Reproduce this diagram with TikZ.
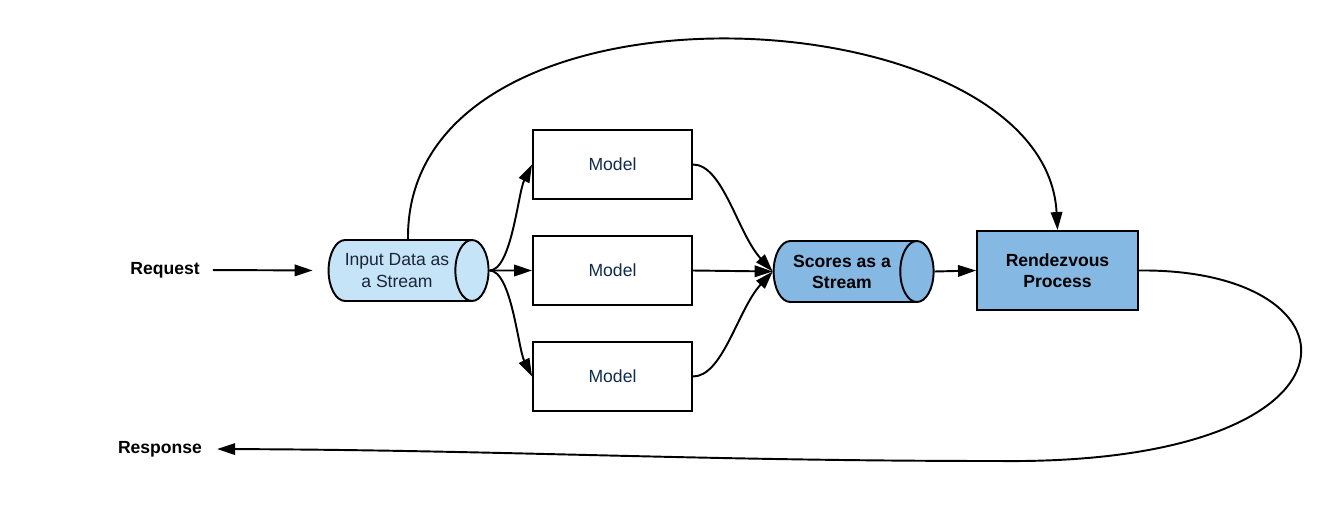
\documentclass[tikz,border=0pt]{standalone}
\usepackage{fontspec}
\setmainfont{Liberation Sans}
\usetikzlibrary{arrows.meta,shapes.geometric}
\definecolor{inputblue}{HTML}{C5E4F7}
\definecolor{scoreblue}{HTML}{85B8E3}
\definecolor{modeltext}{HTML}{0F2B4F}
\definecolor{streamtext}{HTML}{1B2535}
\tikzset{
	link/.style = {line width=1.1pt, -{Triangle[length=3.6mm,width=2.3mm]}},
	lbl/.style = {font=\fontsize{10}{12}\selectfont\bfseries},
	model/.style = {draw, line width=1.1pt, rectangle, minimum width=3.18cm, minimum height=1.38cm, text=modeltext, font=\fontsize{10}{12}\selectfont},
	stream/.style = {draw, line width=1.1pt, cylinder, aspect=0.9, minimum height=3.2cm, minimum width=1.22cm, inner sep=1pt, align=center, font=\fontsize{10}{12}\selectfont},
	rdvbox/.style = {draw, line width=1.1pt, rectangle, fill=scoreblue, minimum width=3.22cm, minimum height=1.58cm, align=center, font=\fontsize{10}{12}\selectfont\bfseries}
}
\begin{document}
	\begin{tikzpicture}[x=0.02cm, y=-0.02cm]
		\useasboundingbox (0,0) rectangle (1337,521);
		\node[lbl] (req) at (165,270) {Request};
		\node[lbl] (resp) at (160,449) {Response};
		\node[stream, fill=inputblue, text=streamtext] (in) at (397,270.5) {Input Data as\\a Stream};
		\node[model] (m1) at (612.5,164.5) {Model};
		\node[model] (m2) at (612.5,270.5) {Model};
		\node[model] (m3) at (612.5,376.5) {Model};
		\node[stream, fill=scoreblue, font=\fontsize{10}{12}\selectfont\bfseries] (sc) at (842,271.5) {Scores as a\\Stream};
		\node[rdvbox] (rv) at (1057.5,270.5) {Rendezvous\\Process};
		% request in, fan out to the models
		\draw[link, shorten <=0.14cm, shorten >=0.3cm] (req.east) -- (in.west);
		\draw[link] (in.east) .. controls +(22,0) and +(-14,28) .. (m1.west);
		\draw[link] (in.east) -- (m2.west);
		\draw[link] (in.east) .. controls +(22,0) and +(-14,-28) .. (m3.west);
		% scores
		\draw[link] (m1.east) .. controls +(30,0) and +(-35,-38) .. (sc.west);
		\draw[link] (m2.east) -- (sc.west);
		\draw[link] (m3.east) .. controls +(30,0) and +(-35,38) .. (sc.west);
		\draw[link] (sc.east) -- (rv.west);
		% loops
		\draw[link] ([xshift=0.22cm]in.north) .. controls (405,-40) and (1045,-8) .. (rv.north);
		\draw[link, shorten >=0.18cm] (rv.east) .. controls (1370,268) and (1380,465) .. (1000,461)
			.. controls (700,461) and (500,450) .. (resp.east);
	\end{tikzpicture}
\end{document}
